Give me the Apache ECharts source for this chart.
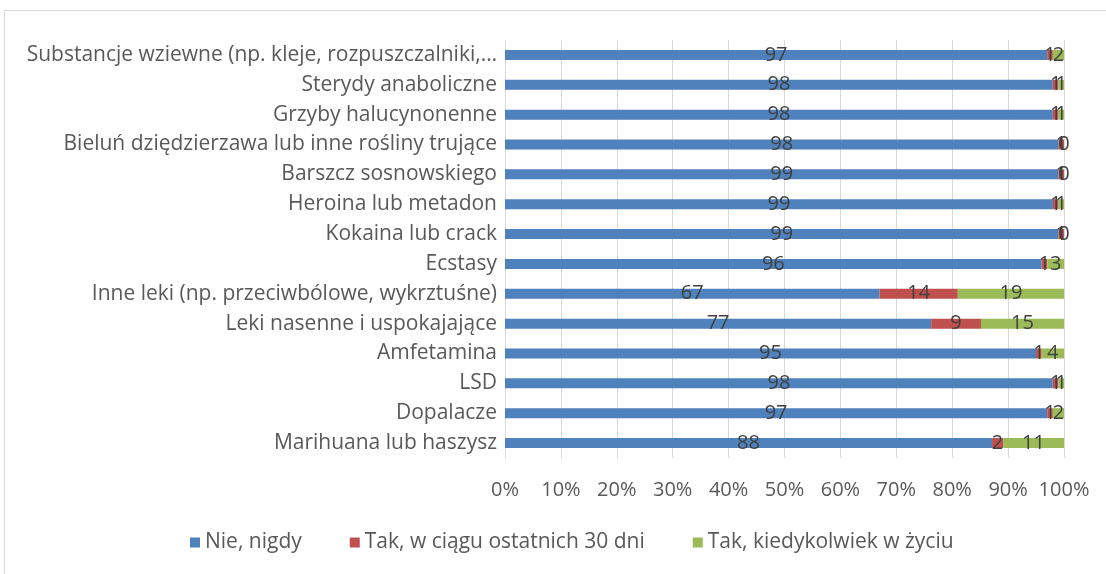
<!DOCTYPE html>
<html lang="pl">
<head>
<meta charset="UTF-8">
<title>Substancje</title>
<script src="https://cdn.jsdelivr.net/npm/echarts@6/dist/echarts.min.js"></script>
<style>
    html, body { margin: 0; padding: 0; background: #fff; }
    #frame {
        position: absolute;
        left: 4px;
        top: 10px;
        width: 1110px;
        height: 580px;
        border: 1px solid #d9d9d9;
        box-sizing: border-box;
    }
    #chart { position: absolute; left: 0; top: 0; width: 1106px; height: 574px; }
</style>
</head>
<body>
<div id="frame"></div>
<div id="chart"></div>
<script>
    // kategorie od gory do dolu
    var categories = [
        'Substancje wziewne (np. kleje, rozpuszczalniki,…',
        'Sterydy anaboliczne',
        'Grzyby halucynonenne',
        'Bieluń dziędzierzawa lub inne rośliny trujące',
        'Barszcz sosnowskiego',
        'Heroina lub metadon',
        'Kokaina lub crack',
        'Ecstasy',
        'Inne leki (np. przeciwbólowe, wykrztuśne)',
        'Leki nasenne i uspokajające',
        'Amfetamina',
        'LSD',
        'Dopalacze',
        'Marihuana lub haszysz'
    ];
    var seriesNames = ['Nie, nigdy', 'Tak, w ciągu ostatnich 30 dni', 'Tak, kiedykolwiek w życiu'];
    var nigdy =     [97, 98, 98, 98, 99, 99, 99, 96, 67, 77, 95, 98, 97, 88];
    var ostatnie30 = [1, 1, 1, 1, 1, 1, 1, 1, 14, 9, 1, 1, 1, 2];
    var kiedykolwiek = [2, 1, 1, 0, 0, 1, 0, 3, 19, 15, 4, 1, 2, 11];
    var colors = ['#4F81BD', '#C0504D', '#9BBB59'];

    var raw = [nigdy, ostatnie30, kiedykolwiek];
    // wykres 100% skumulowany - normalizacja do sumy wiersza
    var sums = categories.map(function (c, i) {
        return nigdy[i] + ostatnie30[i] + kiedykolwiek[i];
    });

    var font = '"Open Sans", sans-serif';

    var chart = echarts.init(document.getElementById('chart'));
    var option = {
        animation: false,
        color: colors,
        textStyle: { fontFamily: font },
        grid: { left: 505, right: 42, top: 40, bottom: 116 },
        legend: {
            bottom: 16,
            left: 185,
            itemWidth: 10,
            itemHeight: 10,
            itemGap: 48,
            icon: 'rect',
            textStyle: { fontFamily: font, fontSize: 21, color: '#595959' },
            data: seriesNames
        },
        xAxis: {
            type: 'value',
            min: 0,
            max: 100,
            interval: 10,
            axisLine: { show: false },
            axisTick: { show: false },
            axisLabel: {
                formatter: '{value}%',
                fontFamily: font,
                fontSize: 20,
                color: '#595959',
                margin: 22
            },
            splitLine: { lineStyle: { color: '#d9d9d9', width: 1 } }
        },
        yAxis: {
            type: 'category',
            inverse: true,
            data: categories,
            axisLine: { show: false },
            axisTick: { show: false },
            axisLabel: {
                fontFamily: font,
                fontSize: 21,
                color: '#595959',
                margin: 8
            }
        },
        series: raw.map(function (arr, s) {
            return {
                name: seriesNames[s],
                type: 'bar',
                stack: 'total',
                barWidth: 10,
                data: arr.map(function (v, i) { return v / sums[i] * 100; }),
                label: {
                    show: true,
                    position: 'inside',
                    fontFamily: font,
                    fontSize: 20,
                    color: '#404040',
                    formatter: function (p) { return arr[p.dataIndex]; }
                }
            };
        })
    };
    chart.setOption(option);
</script>
</body>
</html>
